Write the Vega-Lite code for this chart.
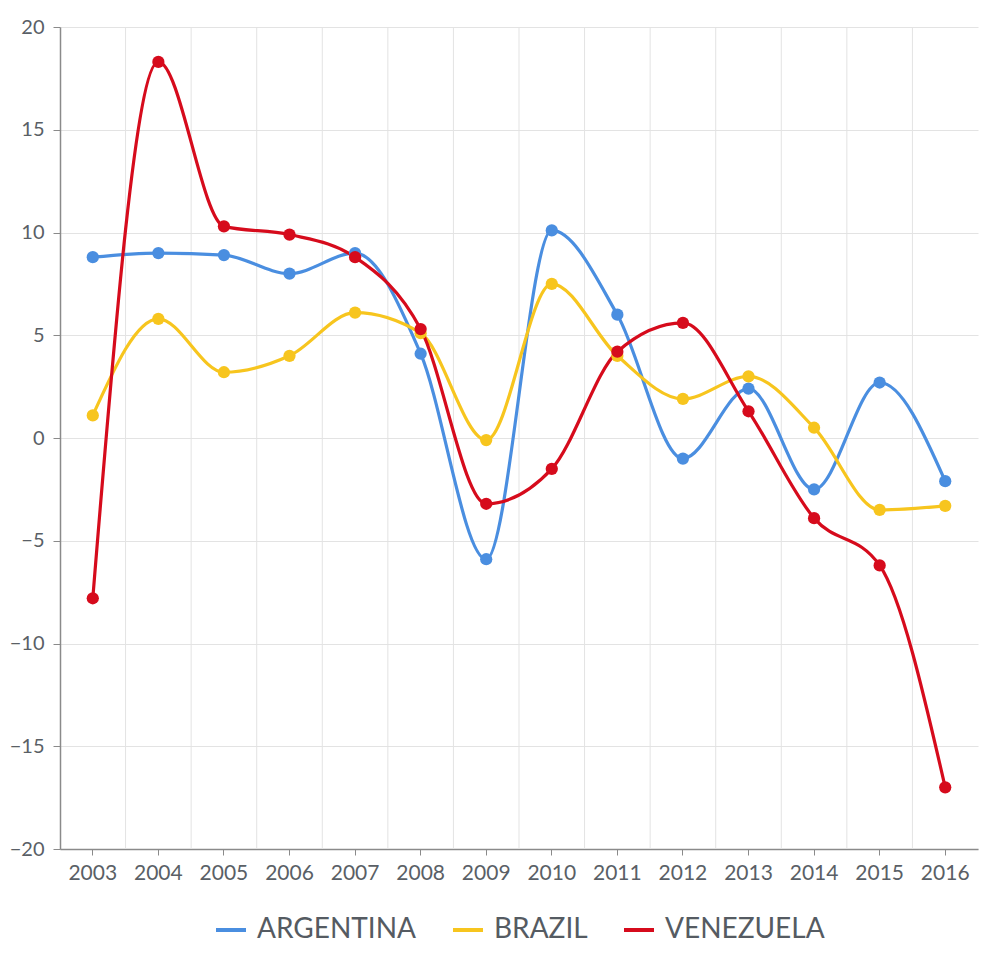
{
  "$schema": "https://vega.github.io/schema/vega-lite/v6.json",
  "width": 918,
  "height": 822,
  "autosize": {"type": "none"},
  "padding": {"left": 60, "top": 27, "right": 9, "bottom": 107},
  "background": "white",
  "config": {
    "font": "Lato",
    "view": {"stroke": null},
    "axis": {"labelFont": "Lato", "labelColor": "#5a5f66", "domainColor": "#8a8a8a", "tickColor": "#8a8a8a", "gridColor": "#e3e3e3"},
    "legend": {"layout": {"bottom": {"anchor": "middle"}}}
  },
  "datasets": {
    "growth": [
      {"year": 2003, "country": "ARGENTINA", "value": 8.8},
      {"year": 2004, "country": "ARGENTINA", "value": 9.0},
      {"year": 2005, "country": "ARGENTINA", "value": 8.9},
      {"year": 2006, "country": "ARGENTINA", "value": 8.0},
      {"year": 2007, "country": "ARGENTINA", "value": 9.0},
      {"year": 2008, "country": "ARGENTINA", "value": 4.1},
      {"year": 2009, "country": "ARGENTINA", "value": -5.9},
      {"year": 2010, "country": "ARGENTINA", "value": 10.1},
      {"year": 2011, "country": "ARGENTINA", "value": 6.0},
      {"year": 2012, "country": "ARGENTINA", "value": -1.0},
      {"year": 2013, "country": "ARGENTINA", "value": 2.4},
      {"year": 2014, "country": "ARGENTINA", "value": -2.5},
      {"year": 2015, "country": "ARGENTINA", "value": 2.7},
      {"year": 2016, "country": "ARGENTINA", "value": -2.1},
      {"year": 2003, "country": "BRAZIL", "value": 1.1},
      {"year": 2004, "country": "BRAZIL", "value": 5.8},
      {"year": 2005, "country": "BRAZIL", "value": 3.2},
      {"year": 2006, "country": "BRAZIL", "value": 4.0},
      {"year": 2007, "country": "BRAZIL", "value": 6.1},
      {"year": 2008, "country": "BRAZIL", "value": 5.1},
      {"year": 2009, "country": "BRAZIL", "value": -0.1},
      {"year": 2010, "country": "BRAZIL", "value": 7.5},
      {"year": 2011, "country": "BRAZIL", "value": 4.0},
      {"year": 2012, "country": "BRAZIL", "value": 1.9},
      {"year": 2013, "country": "BRAZIL", "value": 3.0},
      {"year": 2014, "country": "BRAZIL", "value": 0.5},
      {"year": 2015, "country": "BRAZIL", "value": -3.5},
      {"year": 2016, "country": "BRAZIL", "value": -3.3},
      {"year": 2003, "country": "VENEZUELA", "value": -7.8},
      {"year": 2004, "country": "VENEZUELA", "value": 18.3},
      {"year": 2005, "country": "VENEZUELA", "value": 10.3},
      {"year": 2006, "country": "VENEZUELA", "value": 9.9},
      {"year": 2007, "country": "VENEZUELA", "value": 8.8},
      {"year": 2008, "country": "VENEZUELA", "value": 5.3},
      {"year": 2009, "country": "VENEZUELA", "value": -3.2},
      {"year": 2010, "country": "VENEZUELA", "value": -1.5},
      {"year": 2011, "country": "VENEZUELA", "value": 4.2},
      {"year": 2012, "country": "VENEZUELA", "value": 5.6},
      {"year": 2013, "country": "VENEZUELA", "value": 1.3},
      {"year": 2014, "country": "VENEZUELA", "value": -3.9},
      {"year": 2015, "country": "VENEZUELA", "value": -6.2},
      {"year": 2016, "country": "VENEZUELA", "value": -17.0}
    ],
    "gridyears": [
      {"year": 2004}, {"year": 2005}, {"year": 2006}, {"year": 2007}, {"year": 2008},
      {"year": 2009}, {"year": 2010}, {"year": 2011}, {"year": 2012}, {"year": 2013},
      {"year": 2014}, {"year": 2015}, {"year": 2016}
    ]
  },
  "layer": [
    {
      "data": {"name": "gridyears"},
      "mark": {"type": "rule", "color": "#e3e3e3", "strokeWidth": 1},
      "encoding": {
        "x": {"field": "year", "type": "ordinal", "bandPosition": 0}
      }
    },
    {
      "data": {"name": "growth"},
      "mark": {"type": "line", "interpolate": "monotone", "strokeWidth": 3.2},
      "encoding": {
        "x": {
          "field": "year", "type": "ordinal", "bandPosition": 0.5,
          "scale": {"type": "band", "paddingInner": 0, "paddingOuter": 0},
          "axis": {"title": null, "labelAngle": 0, "labelAlign": "center", "bandPosition": 0.5, "grid": false, "tickSize": 6, "labelPadding": 18, "domainWidth": 1.5, "labelFontSize": 21}
        },
        "y": {
          "field": "value", "type": "quantitative",
          "scale": {"domain": [-20, 20], "nice": false},
          "axis": {"title": null, "values": [-20, -15, -10, -5, 0, 5, 10, 15, 20], "tickSize": 7, "labelPadding": 9, "domainWidth": 1.5, "labelFontSize": 20}
        },
        "color": {
          "field": "country", "type": "nominal",
          "scale": {"domain": ["ARGENTINA", "BRAZIL", "VENEZUELA"], "range": ["#4a8ee0", "#f7c51e", "#d60b1c"]},
          "legend": {"title": null, "orient": "bottom", "direction": "horizontal", "symbolType": "stroke", "symbolStrokeWidth": 4, "symbolSize": 900, "labelFontSize": 28, "labelColor": "#555b62", "columnPadding": 28, "offset": 30, "labelOffset": 9}
        }
      }
    },
    {
      "data": {"name": "growth"},
      "mark": {"type": "point", "filled": true, "opacity": 1, "size": 150},
      "encoding": {
        "x": {"field": "year", "type": "ordinal", "bandPosition": 0.5},
        "y": {"field": "value", "type": "quantitative"},
        "color": {"field": "country", "type": "nominal", "legend": null}
      }
    }
  ]
}
